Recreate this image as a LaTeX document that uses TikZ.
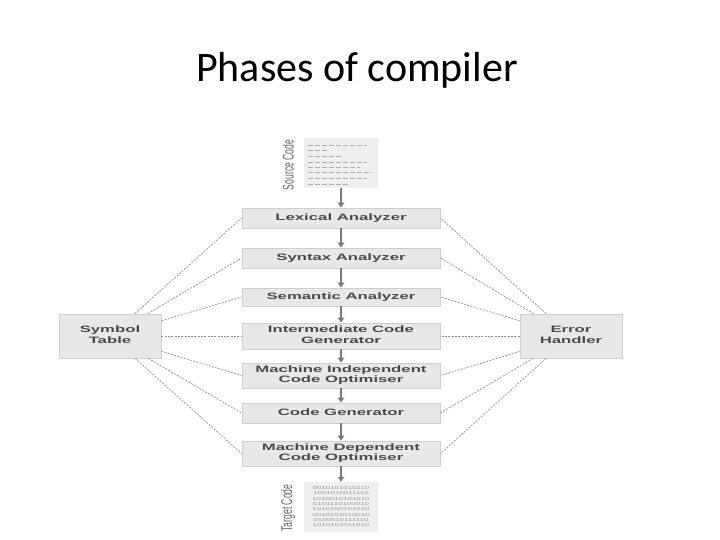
\documentclass[tikz,border=0pt]{standalone}
\usepackage{fontspec}
\usepackage{graphicx}
\setmainfont{Liberation Sans}
\newfontfamily\titlefont{Carlito}
\usetikzlibrary{arrows.meta}
\definecolor{boxfill}{HTML}{E8E8E8}
\definecolor{boxline}{HTML}{CFCFCF}
\definecolor{txtc}{HTML}{4A4A4A}
\definecolor{arrc}{HTML}{7A7A7A}
\definecolor{dashc}{HTML}{8C8C8C}
\definecolor{codec}{HTML}{9A9A9A}
\newcommand{\wtxt}[1]{\scalebox{1.8}[1]{\begin{tabular}{@{}c@{}}#1\end{tabular}}}
\newcommand{\sidelbl}[1]{\scalebox{1.8}[1]{\rotatebox{90}{#1}}}
\tikzset{
  phase/.style={rectangle, fill=boxfill, draw=boxline, line width=0.8pt,
    minimum width=198pt, inner sep=0pt, text=txtc,
    font=\fontsize{9.3}{10.2}\selectfont\bfseries},
  sidebox/.style={rectangle, fill=boxfill, draw=boxline, line width=0.8pt,
    minimum width=102pt, minimum height=44pt, inner sep=0pt, text=txtc,
    font=\fontsize{9.3}{10.5}\selectfont\bfseries},
  codebox/.style={rectangle, fill=boxfill!70!white, draw=none,
    minimum width=74pt, minimum height=50pt, inner sep=0pt},
  lbl/.style={inner sep=0pt, text=txtc!85!white, font=\fontsize{8.6}{9}\selectfont},
  flow/.style={draw=arrc, line width=1.8pt, -{Triangle[length=5pt,width=6.5pt]}},
  dline/.style={draw=dashc, line width=0.7pt, dash pattern=on 2pt off 1.3pt},
  codeline/.style={draw=codec!80!white, line width=0.5pt, dash pattern=on 5pt off 2pt},
}
\begin{document}
\begin{tikzpicture}[x=1pt,y=-1pt]
\fill[white] (0,0) rectangle (720,540);
\useasboundingbox (0,0) rectangle (720,540);

\node[anchor=base, font=\titlefont\fontsize{42}{46}\selectfont] (title) at (357,82) {Phases of compiler};

% source code
\node[codebox] (src) at (341,163) {};
\node[lbl] (srcl) at (288,165) {\sidelbl{Source Code}};
\foreach \y/\e in {145/367,150.7/327,156/342,162/367,167.3/360,172.7/372,178.3/367,184/348}
  \draw[codeline] (308,\y) -- (\e,\y);

% phases
\node[phase, minimum height=20pt] (lex) at (341,218) {\wtxt{Lexical Analyzer}};
\node[phase, minimum height=20pt] (syn) at (341,258) {\wtxt{Syntax Analyzer}};
\node[phase, minimum height=18pt] (sem) at (341,297) {\wtxt{Semantic Analyzer}};
\node[phase, minimum height=26pt] (icg) at (341,336) {\wtxt{Intermediate Code\\Generator}};
\node[phase, minimum height=25pt] (mio) at (341,375.5) {\wtxt{Machine Independent\\Code Optimiser}};
\node[phase, minimum height=20pt] (cg)  at (341,413) {\wtxt{Code Generator}};
\node[phase, minimum height=25pt] (mdo) at (341,453.5) {\wtxt{Machine Dependent\\Code Optimiser}};

% target code
\node[codebox, minimum height=50pt, text=codec, font=\fontsize{4.4}{5.3}\selectfont] (tgt) at (341,507) {\scalebox{1.8}[1]{\begin{tabular}{@{}c@{}}%
0010101011010\\1001010011110\\1010010101010\\0101110100010\\1010100101010\\0010101010010\\0100010111110\\1010101011010\end{tabular}}};
\node[lbl] (tgtl) at (288,508) {\sidelbl{Target Code}};

% side boxes
\node[sidebox] (sym) at (110,336) {\wtxt{Symbol\\Table}};
\node[sidebox] (err) at (571,336) {\wtxt{Error\\Handler}};

% flow arrows
\draw[flow] (src) -- (lex);
\draw[flow] (lex) -- (syn);
\draw[flow] (syn) -- (sem);
\draw[flow] (sem) -- (icg);
\draw[flow] (icg) -- (mio);
\draw[flow] (mio) -- (cg);
\draw[flow] (cg) -- (mdo);
\draw[flow] (mdo) -- (tgt);

% dashed links
\foreach \n in {lex,syn,sem,icg,mio,cg,mdo}{
  \draw[dline] (sym) -- (\n.west);
  \draw[dline] (err) -- (\n.east);
}
\end{tikzpicture}
\end{document}
